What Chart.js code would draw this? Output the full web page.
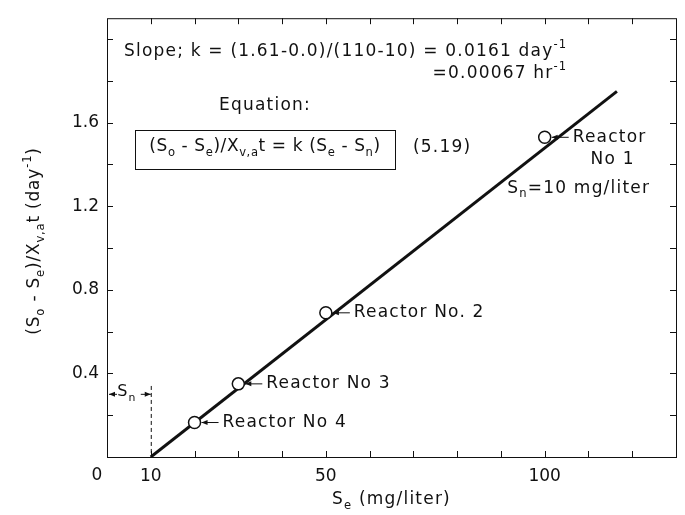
<!DOCTYPE html>
<html>
<head>
<meta charset="utf-8">
<script src="https://cdn.jsdelivr.net/npm/chart.js@4.4.1/dist/chart.umd.min.js"></script>
<style>
  html, body { margin: 0; padding: 0; background: #fff; }
  #wrap { width: 685px; height: 515px; }
</style>
</head>
<body>
<div id="wrap"><canvas id="rateChart" width="685" height="515"></canvas></div>
<script>
// ── Data ────────────────────────────────────────────
// fitted line: (So-Se)/Xv,a t = k (Se - Sn), Sn = 10 mg/liter
const fitSe   = [10, 116.5];
const fitRate = [0, 1.75];

// reactor observations
const reactorNames = ['Reactor No 1', 'Reactor No. 2', 'Reactor No 3', 'Reactor No 4'];
const reactorSe    = [100, 50, 30, 20];
const reactorRate  = [1.53, 0.69, 0.35, 0.165];

// axis tick labels (ticks every 10 mg/liter and 0.2 day-1)
const xTickLabels = ['0', '10', '50', '100'];
const yTickLabels = ['0.4', '0.8', '1.2', '1.6'];

const FONT = "'DejaVu Sans', sans-serif";
const INK = '#111';

// ── Rich text (sub / superscripts) ───────────────────
// parts: [text, mode] where mode is '' | 'sub' | 'sup'
let spacing = 1.2;
function setFont(ctx, size) {
    ctx.font = `${size}px ${FONT}`;
    ctx.letterSpacing = `${spacing}px`;
}
function richWidth(ctx, parts, size) {
    let w = 0;
    parts.forEach(([t, m]) => {
        setFont(ctx, m ? size * 0.68 : size);
        w += ctx.measureText(t).width;
    });
    return w;
}
function drawRich(ctx, parts, x, y, size, align) {
    const w = richWidth(ctx, parts, size);
    let cx = align === 'center' ? x - w / 2 : align === 'right' ? x - w : x;
    ctx.textBaseline = 'middle';
    ctx.textAlign = 'left';
    parts.forEach(([t, m]) => {
        const s = m ? size * 0.68 : size;
        setFont(ctx, s);
        const dy = m === 'sub' ? size * 0.34 : m === 'sup' ? -size * 0.4 : 0;
        ctx.fillText(t, cx, y + dy);
        cx += ctx.measureText(t).width;
    });
    return w;
}

function leftArrow(ctx, x, y, len) {
    // arrowhead at x pointing left, shaft running right
    ctx.beginPath();
    ctx.moveTo(x, y);
    ctx.lineTo(x + len, y);
    ctx.stroke();
    ctx.beginPath();
    ctx.moveTo(x, y);
    ctx.lineTo(x + 6, y - 2.5);
    ctx.lineTo(x + 6, y + 2.5);
    ctx.closePath();
    ctx.fill();
}
function rightArrow(ctx, x, y, len) {
    ctx.beginPath();
    ctx.moveTo(x - len, y);
    ctx.lineTo(x, y);
    ctx.stroke();
    ctx.beginPath();
    ctx.moveTo(x, y);
    ctx.lineTo(x - 6, y - 2.5);
    ctx.lineTo(x - 6, y + 2.5);
    ctx.closePath();
    ctx.fill();
}

// ── Frame, inward ticks and annotations ──────────────
const decorations = {
    id: 'decorations',
    afterDatasetsDraw(chart) {
        const { ctx, chartArea: a, scales: { x, y } } = chart;
        ctx.save();
        ctx.strokeStyle = INK;
        ctx.fillStyle = INK;
        ctx.lineWidth = 1;

        // box
        ctx.strokeRect(a.left + 0.5, a.top + 0.5, a.right - a.left, a.bottom - a.top);

        // inward ticks on all four sides
        ctx.beginPath();
        x.ticks.forEach(t => {
            if (t.value <= 0 || t.value >= x.max) return;
            const px = Math.round(x.getPixelForValue(t.value)) + 0.5;
            ctx.moveTo(px, a.bottom); ctx.lineTo(px, a.bottom - 6);
            ctx.moveTo(px, a.top);    ctx.lineTo(px, a.top + 6);
        });
        y.ticks.forEach(t => {
            if (t.value <= 0.01 || t.value >= y.max - 0.01) return;
            const py = Math.round(y.getPixelForValue(t.value)) + 0.5;
            ctx.moveTo(a.left, py);  ctx.lineTo(a.left + 6, py);
            ctx.moveTo(a.right, py); ctx.lineTo(a.right - 6, py);
        });
        ctx.stroke();

        // the "0" label sits a little left of the corner
        ctx.font = `17px ${FONT}`;
        ctx.letterSpacing = '0px';
        ctx.textAlign = 'center';
        ctx.textBaseline = 'middle';
        ctx.fillText(xTickLabels[0], x.getPixelForValue(0) - 10, 476);

        // reactor labels with arrows
        const size = 17;
        reactorNames.forEach((name, i) => {
            const cx = x.getPixelForValue(reactorSe[i]);
            const cy = y.getPixelForValue(reactorRate[i]);
            leftArrow(ctx, cx + 7, cy, 17);
            if (i === 0) {
                drawRich(ctx, [['Reactor', '']], cx + 28, cy, size);
                drawRich(ctx, [['No 1', '']], cx + 68, cy + 22, size, 'center');
                drawRich(ctx, [['S', ''], ['n', 'sub'], ['=10 mg/liter', '']], cx + 34, cy + 51, size, 'center');
            } else {
                drawRich(ctx, [[name, '']], cx + 28, cy, size);
            }
        });

        // Sn offset on the Se axis
        const sy = y.getPixelForValue(0.3);
        const x0 = x.getPixelForValue(0);
        const x10 = x.getPixelForValue(10);
        leftArrow(ctx, x0 + 2, sy, 8);
        drawRich(ctx, [['S', ''], ['n', 'sub']], (x0 + x10) / 2 - 2, sy - 2, 16, 'center');
        rightArrow(ctx, x10, sy, 10);
        ctx.save();
        ctx.setLineDash([4, 3]);
        ctx.beginPath();
        ctx.moveTo(x10 + 0.5, y.getPixelForValue(0.34));
        ctx.lineTo(x10 + 0.5, a.bottom);
        ctx.stroke();
        ctx.restore();

        // slope text, second line right-aligned under the first
        const l1 = [['Slope; k = (1.61-0.0)/(110-10) = 0.0161 day', ''], ['-1', 'sup']];
        const w1 = drawRich(ctx, l1, 124, 52, size);
        drawRich(ctx, [['=0.00067 hr', ''], ['-1', 'sup']], 124 + w1, 74, size, 'right');

        // equation box
        drawRich(ctx, [['Equation:', '']], 265, 106, size, 'center');
        ctx.strokeRect(135.5, 130.5, 260, 39);
        spacing = 0.6;
        drawRich(ctx, [
            ['(S', ''], ['o', 'sub'], [' - S', ''], ['e', 'sub'], [')/X', ''], ['v,a', 'sub'],
            ['t = k (S', ''], ['e', 'sub'], [' - S', ''], ['n', 'sub'], [')', '']
        ], 265, 147, size, 'center');
        spacing = 1.2;
        drawRich(ctx, [['(5.19)', '']], 413, 148, size);

        // axis titles
        drawRich(ctx, [['S', ''], ['e', 'sub'], [' (mg/liter)', '']], (a.left + a.right) / 2, 500, size, 'center');
        ctx.translate(35, 241);
        ctx.rotate(-Math.PI / 2);
        spacing = 0.8;
        drawRich(ctx, [
            ['(S', ''], ['o', 'sub'], [' - S', ''], ['e', 'sub'], [')/X', ''], ['v,a', 'sub'],
            ['t (day', ''], ['-1', 'sup'], [')', '']
        ], 0, 0, size, 'center');
        spacing = 1.2;
        ctx.restore();
    }
};

new Chart(document.getElementById('rateChart'), {
    type: 'scatter',
    data: {
        datasets: [{
            data: fitSe.map((s, i) => ({ x: s, y: fitRate[i] })),
            showLine: true,
            borderColor: INK,
            borderWidth: 3,
            pointRadius: 0,
            order: 2
        }, {
            data: reactorSe.map((s, i) => ({ x: s, y: reactorRate[i] })),
            pointRadius: 6,
            pointBackgroundColor: '#fff',
            pointBorderColor: INK,
            pointBorderWidth: 1.5,
            order: 1
        }]
    },
    options: {
        responsive: false,
        animation: false,
        layout: { padding: { left: 0, top: 16, right: 8, bottom: 0 } },
        plugins: { legend: { display: false }, tooltip: { enabled: false } },
        scales: {
            x: {
                type: 'linear',
                min: 0,
                max: 130,
                border: { display: false },
                grid: { display: false, drawTicks: false },
                afterFit: s => { s.height = 58; },
                ticks: {
                    stepSize: 10,
                    padding: 9,
                    color: INK,
                    font: { family: FONT, size: 17 },
                    maxRotation: 0,
                    autoSkip: false,
                    // "0" is drawn by the plugin, offset from the corner
                    callback: v => v !== 0 && xTickLabels.includes(String(v)) ? String(v) : ''
                }
            },
            y: {
                min: 0,
                max: 2.1,
                border: { display: false },
                grid: { display: false, drawTicks: false },
                afterFit: s => { s.width = 107; },
                ticks: {
                    stepSize: 0.2,
                    padding: 8,
                    color: INK,
                    font: { family: FONT, size: 17 },
                    autoSkip: false,
                    callback: v => {
                        const l = v.toFixed(1);
                        return yTickLabels.includes(l) ? l : '';
                    }
                }
            }
        }
    },
    plugins: [decorations]
});
</script>
</body>
</html>
